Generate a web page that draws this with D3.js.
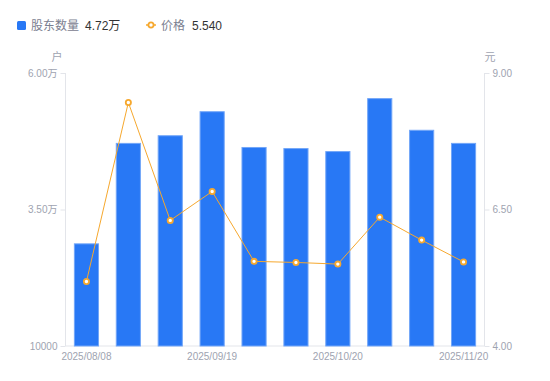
<!DOCTYPE html>
<html><head><meta charset="utf-8">
<script src="https://cdn.jsdelivr.net/npm/d3@7"></script>
<style>
html,body{margin:0;padding:0;background:#fff;}
svg{display:block;font-family:"Liberation Sans","Noto Sans CJK SC",sans-serif;}
</style></head>
<body><svg id="c" width="550" height="381"></svg>
<script>
const dates = ["2025/08/08","2025/08/29","2025/09/10","2025/09/19","2025/09/30","2025/10/10","2025/10/20","2025/10/31","2025/11/10","2025/11/20"];
const holders = [28800, 47200, 48600, 53000, 46450, 46250, 45700, 55400, 49600, 47200];
const prices = [5.18, 8.46, 6.30, 6.83, 5.55, 5.53, 5.50, 6.36, 5.94, 5.54];
const leftTicks = [10000, 35000, 60000];
const rightTicks = [4.00, 6.50, 9.00];
const xTickLabels = ["2025/08/08","2025/09/19","2025/10/20","2025/11/20"];

const svg = d3.select("#c");
const L = 65.5, R = 484.5, T = 73, B = 346;
const blue = "#2878f5", orange = "#f6a82e", tickCol = "#9ea3b0", axisCol = "#e3e5ea";

const x = d3.scaleBand().domain(dates).range([L, R]).paddingInner(0.4).paddingOuter(0.2);
const yL = d3.scaleLinear().domain([10000, 60000]).range([B, T]);
const yR = d3.scaleLinear().domain([4, 9]).range([B, T]);

const fmtL = v => v === 10000 ? "10000" : (v / 10000).toFixed(2) + "万";

// left axis
const gL = svg.append("g").attr("transform", `translate(${L},0)`)
  .call(d3.axisLeft(yL).tickValues(leftTicks).tickFormat(fmtL).tickSize(5).tickPadding(3));
// right axis
const gR = svg.append("g").attr("transform", `translate(${R},0)`)
  .call(d3.axisRight(yR).tickValues(rightTicks).tickFormat(d3.format(".2f")).tickSize(5).tickPadding(3));
// bottom axis
const gB = svg.append("g").attr("transform", `translate(0,${B})`)
  .call(d3.axisBottom(x).tickValues(xTickLabels).tickSize(0).tickPadding(7));
[gL, gR, gB].forEach(g => {
  g.select(".domain").attr("stroke", axisCol);
  g.selectAll(".tick line").attr("stroke", axisCol);
  g.selectAll(".tick text").attr("fill", tickCol).attr("font-size", 10)
   .attr("font-family", '"Liberation Sans","Noto Sans CJK SC",sans-serif');
});
gL.select(".domain").attr("d", `M0,${T}V${B}`);
gR.select(".domain").attr("d", `M0,${T}V${B}`);
gB.select(".domain").attr("d", `M${L},0H${R}`);

// units
svg.append("text").attr("x", 57).attr("y", 61).attr("text-anchor", "middle")
  .attr("fill", tickCol).attr("font-size", 11).text("户");
svg.append("text").attr("x", 490).attr("y", 61).attr("text-anchor", "middle")
  .attr("fill", tickCol).attr("font-size", 11).text("元");

// bars
svg.append("g").selectAll("rect").data(holders).join("rect")
  .attr("x", (d, i) => x(dates[i]) + 0.5)
  .attr("width", x.bandwidth() - 1)
  .attr("y", d => yL(d) + 0.5)
  .attr("height", d => B - yL(d) - 0.5)
  .attr("fill", blue).attr("stroke", "#72a6f8").attr("stroke-width", 1);

// line
const cx = (d, i) => x(dates[i]) + x.bandwidth() / 2;
svg.append("path").datum(prices)
  .attr("d", d3.line().x(cx).y(d => yR(d)))
  .attr("fill", "none").attr("stroke", orange).attr("stroke-width", 1);
svg.append("g").selectAll("circle").data(prices).join("circle")
  .attr("cx", cx).attr("cy", d => yR(d)).attr("r", 2.6)
  .attr("fill", "#fff").attr("stroke", orange).attr("stroke-width", 1.8);

// legend
const lg = svg.append("g");
lg.append("rect").attr("x", 17).attr("y", 21).attr("width", 9).attr("height", 9).attr("rx", 1.5).attr("fill", blue);
lg.append("text").attr("x", 31).attr("y", 29.5).attr("font-size", 12).attr("fill", "#7b8090").text("股东数量");
lg.append("text").attr("x", 85).attr("y", 29.5).attr("font-size", 12).attr("fill", "#333").text((holders[holders.length-1]/10000).toFixed(2) + "万");
lg.append("line").attr("x1", 146).attr("x2", 156).attr("y1", 25).attr("y2", 25).attr("stroke", orange).attr("stroke-width", 1.5);
lg.append("circle").attr("cx", 151).attr("cy", 25).attr("r", 2.6).attr("fill", "#fff").attr("stroke", orange).attr("stroke-width", 1.8);
lg.append("text").attr("x", 161).attr("y", 29.5).attr("font-size", 12).attr("fill", "#7b8090").text("价格");
lg.append("text").attr("x", 192).attr("y", 29.5).attr("font-size", 12).attr("fill", "#333").text(prices[prices.length-1].toFixed(3));
</script></body></html>
